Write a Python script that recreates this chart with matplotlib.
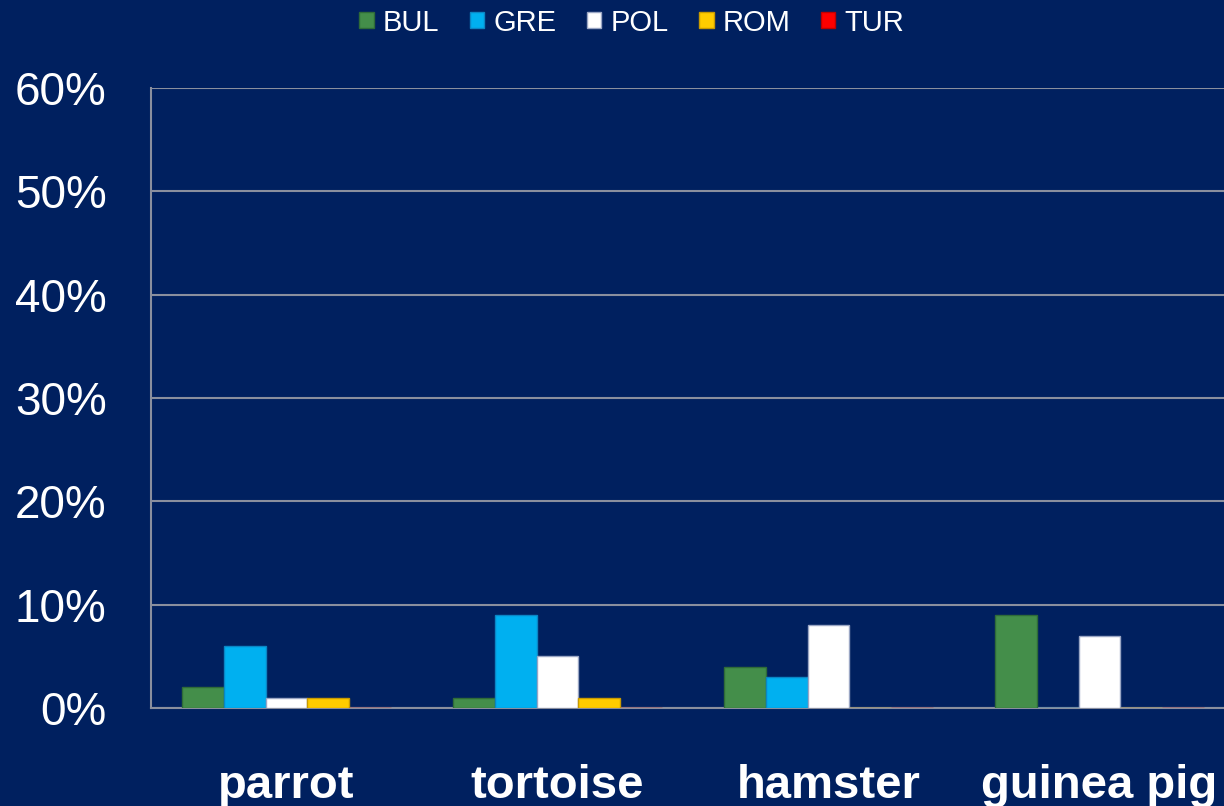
import numpy as np
import matplotlib.pyplot as plt

categories = ['parrot', 'tortoise', 'hamster', 'guinea pig']
series = ['BUL', 'GRE', 'POL', 'ROM', 'TUR']
bul = [2, 1, 4, 9]
gre = [6, 9, 3, 0]
pol = [1, 5, 8, 7]
rom = [1, 1, 0, 0]
tur = [0, 0, 0, 0]
yticks = [0, 10, 20, 30, 40, 50, 60]

colors = ['#448E4A', '#00B0F0', '#FFFFFF', '#FFCC00', '#FF0000']
edges = ['#2F6B38', '#0B86C4', '#9AA6C4', '#C89A00', '#C00000']
bg = '#00205F'

plt.rcParams['font.family'] = ['Liberation Sans', 'DejaVu Sans']

fig = plt.figure(figsize=(12.24, 8.06), dpi=100, facecolor=bg)
ax = fig.add_axes([151/1224, 98/806, 1084/1224, 620/806])
ax.set_facecolor(bg)

x = np.arange(len(categories))
w = 1 / 6.5
for i, (name, vals) in enumerate(zip(series, [bul, gre, pol, rom, tur])):
    ax.bar(x + (i - 2) * w, vals, width=w, color=colors[i], edgecolor=edges[i],
           linewidth=1, label=name, zorder=3)

ax.set_xlim(-0.5, 3.5)
ax.set_ylim(0, 60)
ax.set_yticks(yticks)
ax.set_yticklabels([f'{t}%' for t in yticks], color='white', fontsize=33)
ax.set_xticks(x)
ax.set_xticklabels(categories, color='white', fontsize=34, fontweight='bold')
ax.tick_params(axis='y', length=0, pad=32)
ax.tick_params(axis='x', length=0, pad=40)
ax.grid(axis='y', color='#8A8F9E', linewidth=1.5, zorder=1)

for s in ['top', 'right']:
    ax.spines[s].set_visible(False)
for s in ['left', 'bottom']:
    ax.spines[s].set_color('#8A8F9E')
    ax.spines[s].set_linewidth(1.5)

leg = fig.legend(loc='upper center', bbox_to_anchor=(0.516, 1.022), ncol=5,
                 frameon=False, fontsize=21, handlelength=0.5, handleheight=0.5,
                 handletextpad=0.3, columnspacing=1.05, labelcolor='white')

fig.savefig('out.png', dpi=100, facecolor=bg)
